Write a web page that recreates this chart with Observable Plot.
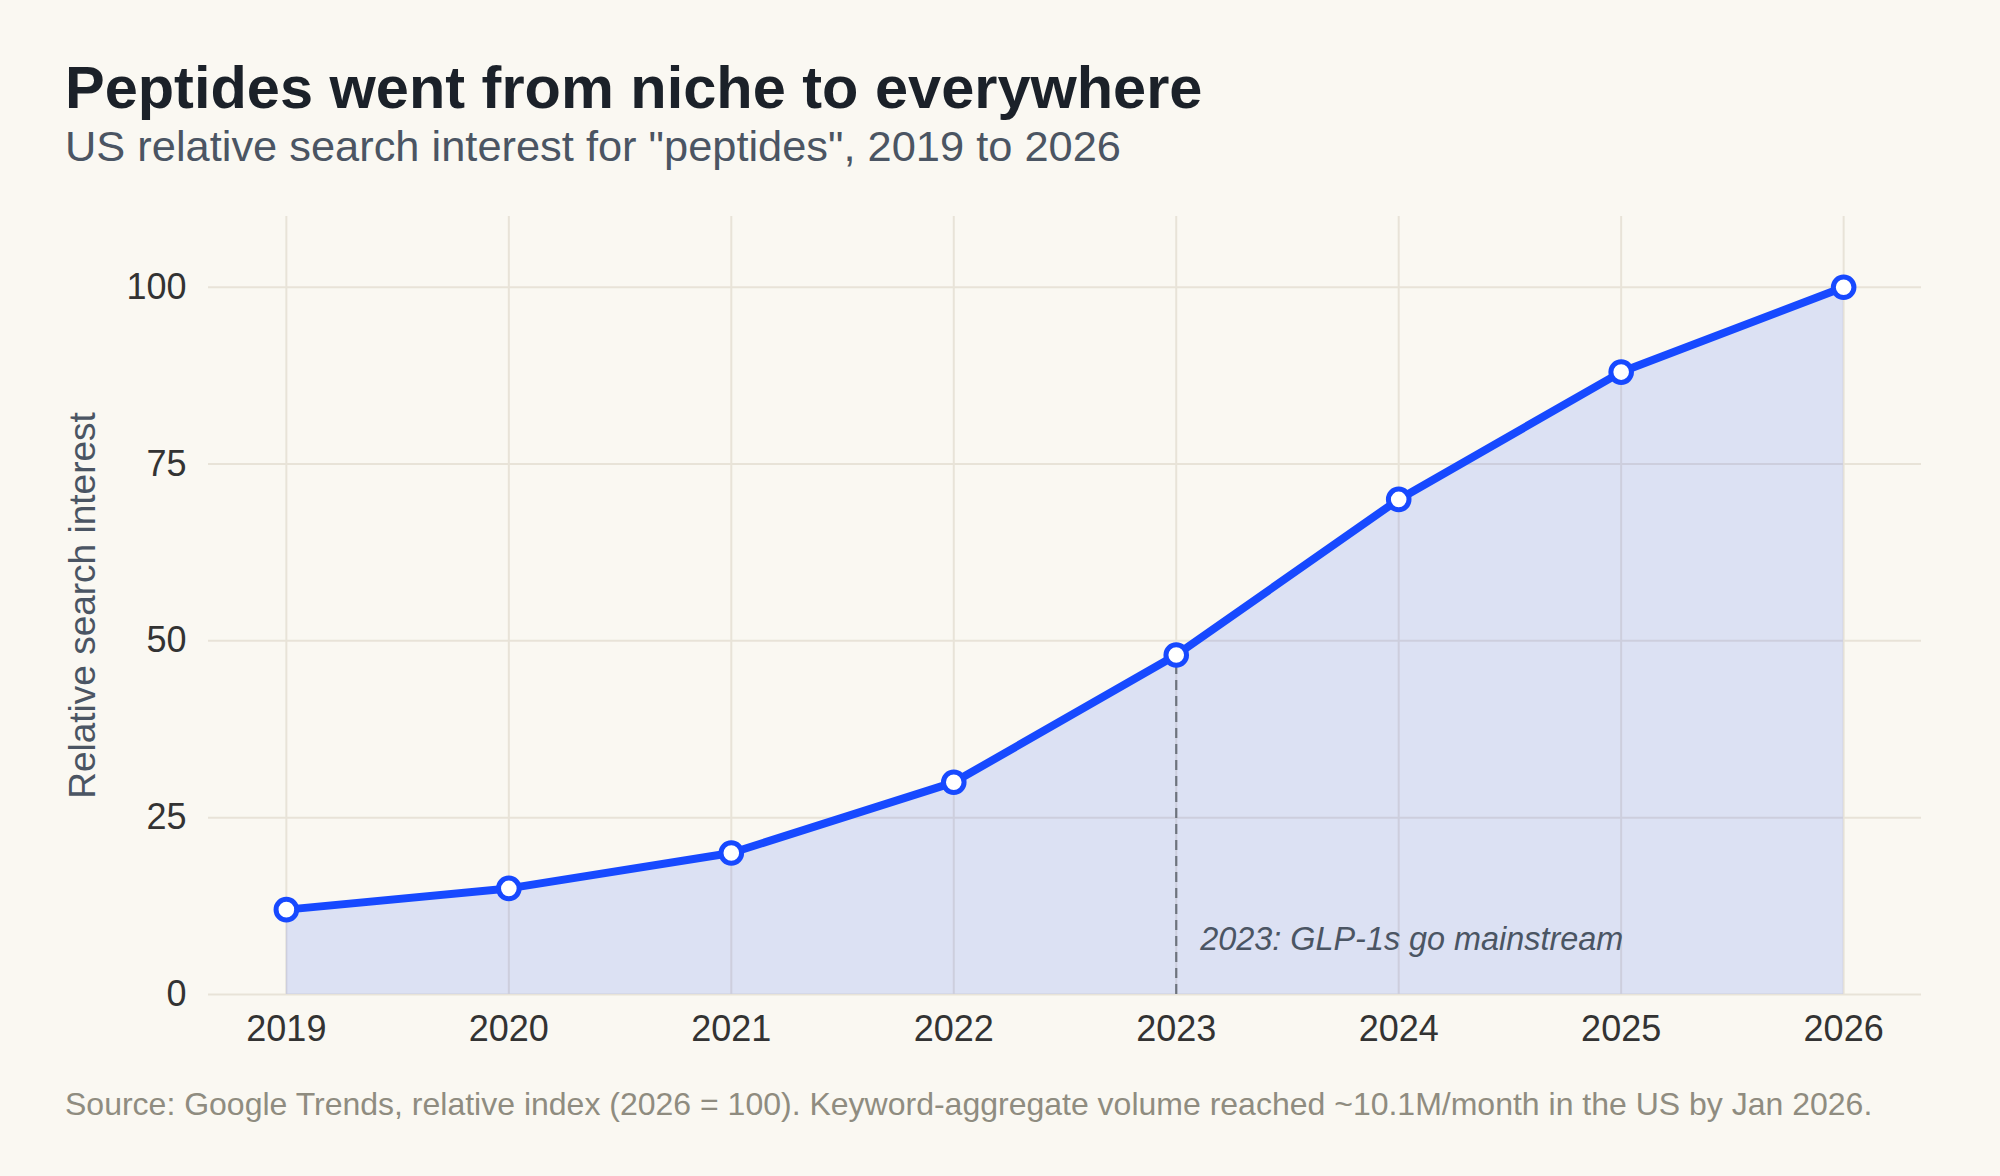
<!DOCTYPE html>
<html>
<head>
<meta charset="utf-8">
<script src="https://cdn.jsdelivr.net/npm/d3@7"></script>
<script src="https://cdn.jsdelivr.net/npm/@observablehq/plot@0.6"></script>
<style>
  html, body { margin: 0; padding: 0; background: #faf8f2; }
  #page { position: relative; width: 2000px; height: 1176px; background: #faf8f2; overflow: hidden;
          font-family: "Liberation Sans", Arial, Helvetica, sans-serif; }
  .title { position: absolute; left: 65px; top: 58px; font-size: 59.5px; line-height: 1; font-weight: 700; color: #1b2129; white-space: nowrap; }
  .subtitle { position: absolute; left: 65px; top: 125px; font-size: 43.4px; line-height: 1; color: #4b5563; white-space: nowrap; }
  .caption { position: absolute; left: 65px; top: 1088px; font-size: 32px; line-height: 1; color: #8f8c80; white-space: nowrap; }
  #chart { position: absolute; left: 0; top: 180px; }
</style>
</head>
<body>
<div id="page">
  <div class="title">Peptides went from niche to everywhere</div>
  <div class="subtitle">US relative search interest for "peptides", 2019 to 2026</div>
  <div id="chart"></div>
  <div class="caption">Source: Google Trends, relative index (2026 = 100). Keyword-aggregate volume reached ~10.1M/month in the US by Jan 2026.</div>
</div>
<script>
// Yearly search interest, indexed so that 2026 = 100
const years = [2019, 2020, 2021, 2022, 2023, 2024, 2025, 2026];
const interest = [12, 15, 20, 30, 48, 70, 88, 100];
const yTicks = [0, 25, 50, 75, 100];
const yLabel = "Relative search interest";
const markerYear = 2023;
const markerText = "2023: GLP-1s go mainstream";

const data = years.map((year, i) => ({year, value: interest[i]}));
const marker = data.filter(d => d.year === markerYear);

const blue = "#1749ff";
const grid = "#e8e3d8";
const font = "'Liberation Sans', Arial, Helvetica, sans-serif";

const chart = Plot.plot({
  width: 2000,
  height: 900,
  marginTop: 36,
  marginBottom: 86,
  marginLeft: 208,
  marginRight: 79,
  style: {background: "transparent", fontFamily: font, overflow: "visible"},
  x: {domain: [2018.65, 2026.35], axis: null},
  y: {domain: [0, 110], axis: null},
  marks: [
    Plot.gridY(yTicks, {stroke: grid, strokeOpacity: 1, strokeWidth: 2}),
    Plot.gridX(years, {stroke: grid, strokeOpacity: 1, strokeWidth: 2}),
    Plot.areaY(data, {x: "year", y: "value", fill: blue, fillOpacity: 0.13}),
    Plot.ruleX(marker, {x: "year", y1: 0, y2: "value", stroke: "#6e737d", strokeWidth: 2.2, strokeDasharray: "10,6"}),
    Plot.lineY(data, {x: "year", y: "value", stroke: blue, strokeWidth: 8, strokeLinejoin: "round", strokeLinecap: "round"}),
    Plot.dot(data, {x: "year", y: "value", r: 10.3, fill: "white", stroke: blue, strokeWidth: 5}),
    Plot.text(marker, {x: "year", y: () => 0, text: () => markerText, dx: 24, dy: -45,
      textAnchor: "start", lineAnchor: "bottom", fontSize: 32.4, fontStyle: "italic", fill: "#4b5563"}),
    Plot.axisX({ticks: years, tickFormat: d => String(d), tickSize: 0, tickPadding: 21,
      fontSize: 36, fill: "#333333", label: null}),
    Plot.axisY({ticks: yTicks, tickFormat: d => String(d), tickSize: 0, tickPadding: 22,
      fontSize: 36, fill: "#333333", label: null}),
    Plot.text([yLabel], {frameAnchor: "left", text: d => d, rotate: -90, dx: -114,
      textAnchor: "middle", lineAnchor: "bottom", fontSize: 37, fill: "#4b5563"})
  ]
});

document.getElementById("chart").appendChild(chart);
</script>
</body>
</html>
